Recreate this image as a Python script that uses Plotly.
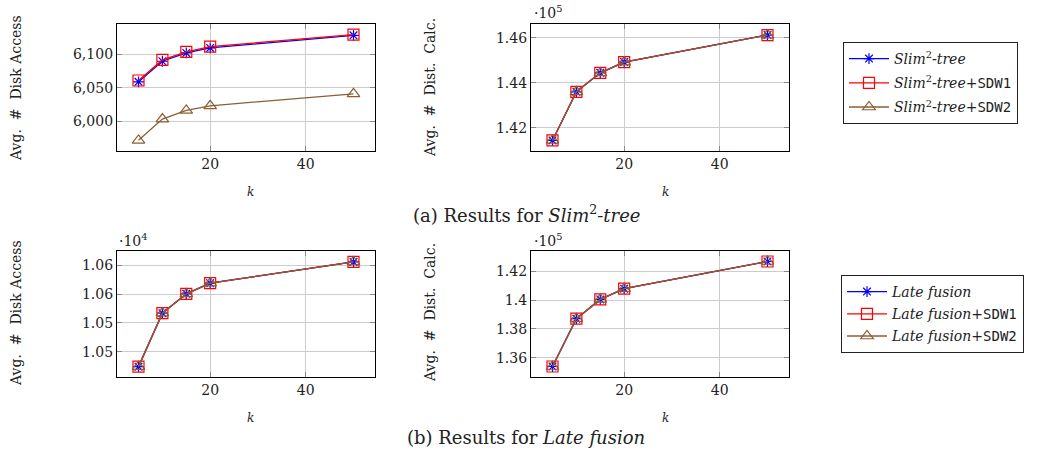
import plotly.graph_objects as go

# ---------------- data ----------------
k = [5, 10, 15, 20, 50]

# (a) Slim2-tree
slim_disk = [6059, 6090, 6102.5, 6110, 6129]
slim_sdw1_disk = [6061, 6092, 6104, 6112, 6130]
slim_sdw2_disk = [5971, 6003, 6016, 6023, 6041]

slim_dist = [141440, 143600, 144440, 144920, 146120]
slim_sdw1_dist = [141440, 143600, 144440, 144920, 146120]
slim_sdw2_dist = [141440, 143600, 144440, 144920, 146120]

# (b) Late fusion
late_disk = [10542.4, 10551.7, 10555.05, 10556.9, 10560.6]
late_sdw1_disk = [10542.4, 10551.7, 10555.05, 10556.9, 10560.6]
late_sdw2_disk = [10542.4, 10551.7, 10555.05, 10556.9, 10560.6]

late_dist = [135380, 138710, 140050, 140800, 142690]
late_sdw1_dist = [135380, 138710, 140050, 140800, 142690]
late_sdw2_dist = [135380, 138710, 140050, 140800, 142690]

x_ticks = [20, 40]
disk_a_ticks = [6000, 6050, 6100]
disk_a_labels = ["6,000", "6,050", "6,100"]
dist_a_ticks = [142000, 144000, 146000]
dist_a_labels = ["1.42", "1.44", "1.46"]
disk_b_ticks = [10545, 10550, 10555, 10560]
disk_b_labels = ["1.05", "1.05", "1.06", "1.06"]
dist_b_ticks = [136000, 138000, 140000, 142000]
dist_b_labels = ["1.36", "1.38", "1.4", "1.42"]

# ---------------- style ----------------
W, H = 1044, 453
SERIF = "DejaVu Serif"
MONO = "DejaVu Sans Mono"
BLUE = "#0000ff"
RED = "#ff0000"
BROWN = "#8b5e34"
TXT = "#222222"

def tt(s):
    return f"<span style=\"font-family:'{MONO}'\">{s}</span>"

SLIM = "<i>Slim</i><sup>2</sup><i>-tree</i>"
LATE = "<i>Late fusion</i>"

def px_x(a, b):
    return [a / W, b / W]

def px_y(top, bottom):
    return [1 - bottom / H, 1 - top / H]

fig = go.Figure()

series_style = [
    (BLUE, "asterisk-open", 9),
    (RED, "square-open", 11),
    (BROWN, "triangle-up-open", 11),
]

panels = [
    ("x", "y", [slim_disk, slim_sdw1_disk, slim_sdw2_disk],
     [SLIM, SLIM + "+" + tt("SDW1"), SLIM + "+" + tt("SDW2")], "legend", True, "a"),
    ("x2", "y2", [slim_dist, slim_sdw1_dist, slim_sdw2_dist],
     [SLIM, SLIM + "+" + tt("SDW1"), SLIM + "+" + tt("SDW2")], "legend", False, "a"),
    ("x3", "y3", [late_disk, late_sdw1_disk, late_sdw2_disk],
     [LATE, LATE + "+" + tt("SDW1"), LATE + "+" + tt("SDW2")], "legend2", True, "b"),
    ("x4", "y4", [late_dist, late_sdw1_dist, late_sdw2_dist],
     [LATE, LATE + "+" + tt("SDW1"), LATE + "+" + tt("SDW2")], "legend2", False, "b"),
]

for xa, ya, ys, names, leg, show, grp in panels:
    for i, ((col, sym, sz), yv, nm) in enumerate(zip(series_style, ys, names)):
        fig.add_trace(go.Scatter(
            x=k, y=yv, xaxis=xa, yaxis=ya, name=nm, legend=leg,
            legendgroup=f"{grp}{i}",
            showlegend=show, mode="lines+markers",
            line=dict(color=col, width=1.3),
            marker=dict(symbol=sym, size=sz, color=col,
                        line=dict(color=col, width=1.2)),
        ))

axis_common = dict(
    showline=True, linecolor="black", linewidth=1.3, mirror="ticks",
    ticks="inside", ticklen=5, tickcolor="#888888", tickwidth=1,
    showgrid=True, gridcolor="#cccccc", gridwidth=1, zeroline=False,
    tickfont=dict(family=SERIF, size=14, color=TXT),
)

L1, R1 = 117, 375
L2, R2 = 531, 789
T1, B1 = 24, 151
T2, B2 = 251, 377

fig.update_layout(
    xaxis=dict(domain=px_x(L1, R1), anchor="y", range=[0.5, 54.5], tickvals=x_ticks, **axis_common),
    yaxis=dict(domain=px_y(T1, B1), anchor="x", range=[5955, 6146],
               tickvals=disk_a_ticks, ticktext=disk_a_labels, **axis_common),
    xaxis2=dict(domain=px_x(L2, R2), anchor="y2", range=[0.5, 54.5], tickvals=x_ticks, **axis_common),
    yaxis2=dict(domain=px_y(T1, B1), anchor="x2", range=[140970, 146610],
                tickvals=dist_a_ticks, ticktext=dist_a_labels, **axis_common),
    xaxis3=dict(domain=px_x(L1, R1), anchor="y3", range=[0.5, 54.5], tickvals=x_ticks, **axis_common),
    yaxis3=dict(domain=px_y(T2, B2), anchor="x3", range=[10540.6, 10562.5],
                tickvals=disk_b_ticks, ticktext=disk_b_labels, **axis_common),
    xaxis4=dict(domain=px_x(L2, R2), anchor="y4", range=[0.5, 54.5], tickvals=x_ticks, **axis_common),
    yaxis4=dict(domain=px_y(T2, B2), anchor="x4", range=[134650, 143420],
                tickvals=dist_b_ticks, ticktext=dist_b_labels, **axis_common),
    width=W, height=H,
    margin=dict(l=0, r=0, t=0, b=0),
    paper_bgcolor="white", plot_bgcolor="white",
    font=dict(family=SERIF, size=14, color=TXT),
    legend=dict(x=843 / W, y=1 - 42 / H, xanchor="left", yanchor="top",
                bordercolor=TXT, borderwidth=1, bgcolor="white",
                font=dict(family=SERIF, size=14, color=TXT),
                itemwidth=40, tracegroupgap=3),
    legend2=dict(x=841 / W, y=1 - 275 / H, xanchor="left", yanchor="top",
                 bordercolor=TXT, borderwidth=1, bgcolor="white",
                 font=dict(family=SERIF, size=14, color=TXT),
                 itemwidth=40, tracegroupgap=1),
)

ann = []
def A(x, y, text, size=14, angle=0, xanchor="center", yanchor="middle"):
    ann.append(dict(x=x / W, y=1 - y / H, xref="paper", yref="paper", text=text,
                    showarrow=False, textangle=angle, xanchor=xanchor, yanchor=yanchor,
                    font=dict(family=SERIF, size=size, color=TXT)))

# y-axis titles
A(16, 88, "Avg.  #  Disk Access", 14, -90)
A(430, 88, "Avg.  #  Dist.  Calc.", 14, -90)
A(16, 313, "Avg.  #  Disk Access", 14, -90)
A(430, 313, "Avg.  #  Dist.  Calc.", 14, -90)
# x-axis titles
A(250, 192, "<i>k</i>", 12)
A(665, 192, "<i>k</i>", 12)
A(250, 418, "<i>k</i>", 12)
A(665, 418, "<i>k</i>", 12)
# exponent markers
A(532, 12, "·10<sup>5</sup>", 14, xanchor="left")
A(117, 240, "·10<sup>4</sup>", 14, xanchor="left")
A(532, 240, "·10<sup>5</sup>", 14, xanchor="left")
# captions
A(526, 214, "(a) Results for " + SLIM, 18)
A(526, 437, "(b) Results for " + LATE, 18)

fig.update_layout(annotations=ann)

fig.write_html("out.html", config={"displayModeBar": False},
               post_script="document.body.style.margin='0px';document.body.style.padding='0px';")
